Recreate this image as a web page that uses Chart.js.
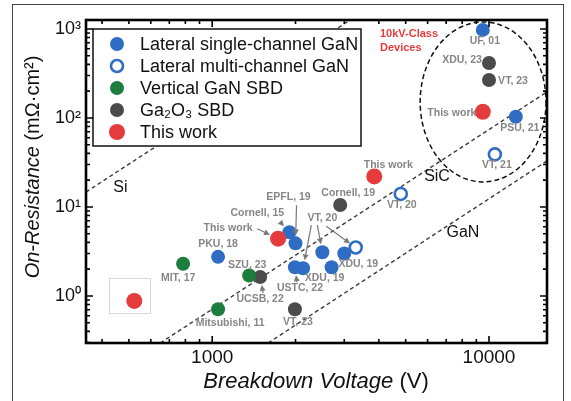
<!DOCTYPE html>
<html>
<head>
<meta charset="utf-8">
<title>On-Resistance vs Breakdown Voltage</title>
<script src="https://cdn.jsdelivr.net/npm/chart.js"></script>
<style>
  html, body { margin: 0; padding: 0; background: #fff; }
</style>
</head>
<body>
<canvas id="myChart" width="571" height="401"></canvas>
<script>
// breakdown voltage (V) / on-resistance (mOhm.cm2)
var singleBV  = [9500, 12500, 1900, 2000, 1050, 1990, 2130, 2500, 2700, 3000];
var singleRon = [975, 103, 5.2, 3.9, 2.75, 2.1, 2.05, 3.1, 2.1, 3.0];
var multiBV   = [3300, 4800, 10500];
var multiRon  = [3.5, 14, 39];
var vertBV    = [785, 1360, 1050];
var vertRon   = [2.3, 1.7, 0.71];
var gaoBV     = [10000, 10000, 2900, 1490, 1990];
var gaoRon    = [415, 267, 10.5, 1.63, 0.71];
var thisBV    = [523, 1730, 3850, 9500];
var thisRon   = [0.88, 4.4, 22, 117];

// material limit lines (two ends each)
var siBV   = [350, 3150];
var siRon  = [14.7, 1260];
var sicBV  = [649, 16200];
var sicRon = [0.296, 196];
var ganBV  = [1592, 16200];
var ganRon = [0.296, 32.9];

var xTicks = [1000, 10000];
var yTicks = [1, 10, 100, 1000];

var FONT = '"Liberation Sans", Arial, sans-serif';
var BLUE = '#2f6dc4', GREEN = '#1c7d3c', GREY = '#4b4b4b', RED = '#e63b3d';

function pts(xs, ys) {
  return xs.map(function (x, i) { return { x: x, y: ys[i] }; });
}

// text next to the points: series index, point index, offset (px) of the label centre
var notes = [
  { t: 'UF, 01', ds: 0, i: 0, dx: 2, dy: 11 },
  { t: 'PSU, 21', ds: 0, i: 1, dx: 4, dy: 11 },
  { t: 'Cornell, 15', ds: 0, i: 2, dx: -32, dy: -19, arrows: [{ from: [23, 9], ds: 0, i: 2 }] },
  { t: 'EPFL, 19', ds: 0, i: 3, dx: -7, dy: -46, arrows: [{ from: [8, 8], ds: 0, i: 3 }] },
  { t: 'PKU, 18', ds: 0, i: 4, dx: 0, dy: -13 },
  { t: 'USTC, 22', ds: 0, i: 5, dx: 5, dy: 21, arrows: [{ from: [-3, -6], ds: 0, i: 5 }] },
  { t: 'VT, 20', ds: 0, i: 7, dx: 0, dy: -34, arrows: [
      { from: [-11, 7], ds: 0, i: 6 }, { from: [-5, 7], ds: 0, i: 7 }, { from: [4, 8], ds: 1, i: 0 }] },
  { t: 'XDU, 19', ds: 0, i: 8, dx: -7, dy: 11 },
  { t: 'XDU, 19', ds: 0, i: 9, dx: 14, dy: 11 },
  { t: 'VT, 20', ds: 1, i: 1, dx: 1, dy: 11 },
  { t: 'VT, 21', ds: 1, i: 2, dx: 2, dy: 11 },
  { t: 'MIT, 17', ds: 2, i: 0, dx: -5, dy: 14 },
  { t: 'SZU, 23', ds: 2, i: 1, dx: -2, dy: -10 },
  { t: 'Mitsubishi, 11', ds: 2, i: 2, dx: 12, dy: 14 },
  { t: 'XDU, 23', ds: 3, i: 0, dx: -27, dy: -3 },
  { t: 'VT, 23', ds: 3, i: 1, dx: 24, dy: 1 },
  { t: 'Cornell, 19', ds: 3, i: 2, dx: 8, dy: -12 },
  { t: 'UCSB, 22', ds: 3, i: 3, dx: 0, dy: 22, arrows: [{ from: [3, -6], ds: 3, i: 3 }] },
  { t: 'VT, 23', ds: 3, i: 4, dx: 3, dy: 13 },
  { t: 'This work', ds: 4, i: 1, dx: -50, dy: -11, arrows: [{ from: [29, 1], ds: 4, i: 1 }] },
  { t: 'This work', ds: 4, i: 2, dx: 14, dy: -11 },
  { t: 'This work', ds: 4, i: 3, dx: -31, dy: 1 }
];

// line names, placed in data units
var lineTags = [
  { t: 'Si', x: 466, y: 16.3 },
  { t: 'SiC', x: 6490, y: 21.7 },
  { t: 'GaN', x: 8050, y: 5.1 }
];

// dashed "10kV-class" ring (bounds in data units) and its caption
var ring = { x0: 5640, x1: 16070, y0: 19.1, y1: 1200 };
var ringText = { lines: ['10kV-Class', 'Devices'], x: 4037, y: 879 };

var datasets = [
  { label: 'Lateral single-channel GaN', data: pts(singleBV, singleRon), pointRadius: 7,
    pointBackgroundColor: BLUE, pointBorderColor: BLUE, pointBorderWidth: 0, order: 1 },
  { label: 'Lateral multi-channel GaN', data: pts(multiBV, multiRon), pointRadius: 6, hollow: true,
    pointBackgroundColor: '#fff', pointBorderColor: BLUE, pointBorderWidth: 2.6, order: 1 },
  { label: 'Vertical GaN SBD', data: pts(vertBV, vertRon), pointRadius: 7,
    pointBackgroundColor: GREEN, pointBorderColor: GREEN, pointBorderWidth: 0, order: 1 },
  { label: 'Ga₂O₃ SBD', data: pts(gaoBV, gaoRon), pointRadius: 7,
    pointBackgroundColor: GREY, pointBorderColor: GREY, pointBorderWidth: 0, order: 1 },
  { label: 'This work', data: pts(thisBV, thisRon), pointRadius: 8,
    pointBackgroundColor: RED, pointBorderColor: RED, pointBorderWidth: 0, order: 0 }
];
[[siBV, siRon], [sicBV, sicRon], [ganBV, ganRon]].forEach(function (l) {
  datasets.push({ label: '', limit: true, data: pts(l[0], l[1]), showLine: true, pointRadius: 0,
    borderColor: '#3a3a3a', borderWidth: 1.4, borderDash: [4, 3], order: 5 });
});

function isDecade(v) {
  var l = Math.log10(v);
  return Math.abs(l - Math.round(l)) < 1e-9;
}
var SUP = { '-1': '⁻¹', '0': '⁰', '1': '¹', '2': '²', '3': '³', '4': '⁴' };

function ptPos(chart, ds, i) {
  var p = chart.getDatasetMeta(ds).data[i];
  return { x: p.x, y: p.y, r: chart.data.datasets[ds].pointRadius };
}

function arrow(ctx, x1, y1, x2, y2) {
  var a = Math.atan2(y2 - y1, x2 - x1);
  ctx.beginPath();
  ctx.moveTo(x1, y1);
  ctx.lineTo(x2 - 3 * Math.cos(a), y2 - 3 * Math.sin(a));
  ctx.stroke();
  ctx.beginPath();
  ctx.moveTo(x2, y2);
  ctx.lineTo(x2 - 6 * Math.cos(a) + 3 * Math.sin(a), y2 - 6 * Math.sin(a) - 3 * Math.cos(a));
  ctx.lineTo(x2 - 6 * Math.cos(a) - 3 * Math.sin(a), y2 - 6 * Math.sin(a) + 3 * Math.cos(a));
  ctx.closePath();
  ctx.fill();
}

var decor = {
  id: 'decor',
  beforeDraw: function (chart) {
    var ctx = chart.ctx;
    ctx.save();
    ctx.strokeStyle = '#444';
    ctx.lineWidth = 1;
    ctx.strokeRect(12.5, 4.5, 551, 430);
    ctx.restore();
  },
  beforeDatasetsDraw: function (chart) {
    var ctx = chart.ctx, xs = chart.scales.x, ys = chart.scales.y, ca = chart.chartArea;
    ctx.save();
    ctx.beginPath();
    ctx.rect(ca.left, ca.top, ca.right - ca.left, ca.bottom - ca.top);
    ctx.clip();
    // the 10kV ring
    var x0 = xs.getPixelForValue(ring.x0), x1 = xs.getPixelForValue(ring.x1);
    var y0 = ys.getPixelForValue(ring.y1), y1 = ys.getPixelForValue(ring.y0);
    ctx.strokeStyle = '#111';
    ctx.lineWidth = 1.5;
    ctx.setLineDash([5, 3]);
    ctx.beginPath();
    ctx.ellipse((x0 + x1) / 2, (y0 + y1) / 2, (x1 - x0) / 2, (y1 - y0) / 2, 0, 0, Math.PI * 2);
    ctx.stroke();
    ctx.setLineDash([]);
    // light frame round the first red point
    var p = ptPos(chart, 4, 0);
    ctx.strokeStyle = '#d8d8d8';
    ctx.lineWidth = 1;
    ctx.strokeRect(Math.round(p.x - 25) + 0.5, Math.round(p.y - 23) + 0.5, 41, 35);
    ctx.restore();
  },
  afterDatasetsDraw: function (chart) {
    var ctx = chart.ctx, xs = chart.scales.x, ys = chart.scales.y, ca = chart.chartArea;
    ctx.save();
    ctx.textAlign = 'center';
    ctx.textBaseline = 'middle';

    // reference labels and arrows
    ctx.font = 'bold 10.5px ' + FONT;
    ctx.fillStyle = '#868686';
    ctx.strokeStyle = '#7a7a7a';
    notes.forEach(function (n) {
      var p = ptPos(chart, n.ds, n.i);
      var lx = p.x + n.dx, ly = p.y + n.dy;
      ctx.fillText(n.t, lx, ly);
      (n.arrows || []).forEach(function (a) {
        var q = ptPos(chart, a.ds, a.i);
        var tx = lx + a.from[0], ty = ly + a.from[1];
        var d = Math.hypot(q.x - tx, q.y - ty);
        var k = (d - q.r - 1) / d;
        ctx.lineWidth = 1.2;
        ctx.fillStyle = '#7a7a7a';
        arrow(ctx, tx, ty, tx + (q.x - tx) * k, ty + (q.y - ty) * k);
        ctx.fillStyle = '#868686';
      });
    });

    // line names
    ctx.font = '16px ' + FONT;
    ctx.fillStyle = '#111';
    lineTags.forEach(function (t) {
      ctx.fillText(t.t, xs.getPixelForValue(t.x), ys.getPixelForValue(t.y));
    });

    // 10kV caption
    ctx.font = 'bold 11px ' + FONT;
    ctx.fillStyle = RED;
    ctx.textAlign = 'left';
    ringText.lines.forEach(function (s, k) {
      ctx.fillText(s, xs.getPixelForValue(ringText.x), ys.getPixelForValue(ringText.y) + k * 14);
    });

    // legend box inside the plot
    var bx = ca.left + 7, by = ca.top + 9, bw = 268, bh = 117;
    ctx.fillStyle = '#fff';
    ctx.fillRect(bx, by, bw, bh);
    ctx.strokeStyle = '#111';
    ctx.lineWidth = 1.5;
    ctx.strokeRect(bx, by, bw, bh);
    ctx.font = '18px ' + FONT;
    chart.data.datasets.forEach(function (d, k) {
      if (d.limit) return;
      var cy = by + 15 + k * 22, cx = bx + 24;
      ctx.beginPath();
      if (d.hollow) {
        ctx.arc(cx, cy, d.pointRadius, 0, Math.PI * 2);
        ctx.fillStyle = '#fff';
        ctx.fill();
        ctx.lineWidth = d.pointBorderWidth;
        ctx.strokeStyle = d.pointBorderColor;
        ctx.stroke();
      } else {
        ctx.arc(cx, cy, d.pointRadius, 0, Math.PI * 2);
        ctx.fillStyle = d.pointBackgroundColor;
        ctx.fill();
      }
      ctx.fillStyle = '#111';
      ctx.textAlign = 'left';
      ctx.fillText(d.label, bx + 47, cy + 1);
    });
    ctx.restore();
  },
  afterDraw: function (chart) {
    var ctx = chart.ctx, xs = chart.scales.x, ys = chart.scales.y, ca = chart.chartArea;
    ctx.save();
    // plot frame and inward ticks on all four sides
    ctx.strokeStyle = '#000';
    ctx.lineWidth = 1.6;
    function minorTicks(scale) {
      var out = [];
      for (var e = Math.floor(Math.log10(scale.min)); e <= Math.ceil(Math.log10(scale.max)); e++) {
        for (var m = 1; m < 10; m++) {
          var v = m * Math.pow(10, e);
          if (v >= scale.min && v <= scale.max) out.push({ v: v, major: m === 1 });
        }
      }
      return out;
    }
    ctx.beginPath();
    minorTicks(xs).forEach(function (t) {
      var x = xs.getPixelForValue(t.v), L = t.major ? 7 : 4;
      ctx.moveTo(x, ca.bottom); ctx.lineTo(x, ca.bottom - L);
      ctx.moveTo(x, ca.top); ctx.lineTo(x, ca.top + L);
    });
    minorTicks(ys).forEach(function (t) {
      var y = ys.getPixelForValue(t.v), L = t.major ? 7 : 4;
      ctx.moveTo(ca.left, y); ctx.lineTo(ca.left + L, y);
      ctx.moveTo(ca.right, y); ctx.lineTo(ca.right - L, y);
    });
    ctx.stroke();
    ctx.lineWidth = 2.6;
    ctx.strokeRect(ca.left, ca.top, ca.right - ca.left, ca.bottom - ca.top);

    // axis titles: italic name + upright unit
    function title(parts, size) {
      var w = 0;
      parts.forEach(function (p) { ctx.font = p[1] + size + 'px ' + FONT; w += ctx.measureText(p[0]).width; });
      var x = -w / 2;
      parts.forEach(function (p) {
        ctx.font = p[1] + size + 'px ' + FONT;
        ctx.fillText(p[0], x, 0);
        x += ctx.measureText(p[0]).width;
      });
    }
    ctx.fillStyle = '#111';
    ctx.textBaseline = 'middle';
    ctx.textAlign = 'left';
    ctx.save();
    ctx.translate(316, 382);
    title([['Breakdown Voltage', 'italic '], [' (V)', '']], 22);
    ctx.restore();
    ctx.save();
    ctx.translate(33, 167);
    ctx.rotate(-Math.PI / 2);
    title([['On-Resistance', 'italic '], [' (mΩ·cm²)', '']], 20);
    ctx.restore();
    ctx.restore();
  }
};

new Chart(document.getElementById('myChart').getContext('2d'), {
  type: 'scatter',
  data: { datasets: datasets },
  options: {
    responsive: false,
    animation: false,
    devicePixelRatio: 1,
    layout: { padding: { left: 0, top: 20, right: 24, bottom: 0 } },
    plugins: { legend: { display: false }, tooltip: { enabled: false } },
    scales: {
      x: {
        type: 'logarithmic', min: 350, max: 16200,
        afterFit: function (s) { s.height = 58; },
        grid: { display: false, drawTicks: false },
        border: { display: false },
        ticks: {
          autoSkip: false, maxRotation: 0, padding: 3, color: '#111',
          font: { size: 19, family: FONT },
          callback: function (v) { return xTicks.indexOf(v) >= 0 ? String(v) : ''; }
        }
      },
      y: {
        type: 'logarithmic', min: 0.296, max: 1260,
        afterFit: function (s) { s.width = 86; },
        grid: { display: false, drawTicks: false },
        border: { display: false },
        ticks: {
          autoSkip: false, padding: 5, color: '#111',
          font: { size: 18, family: FONT },
          callback: function (v) {
            return (yTicks.indexOf(v) >= 0 && isDecade(v)) ? '10' + SUP[Math.round(Math.log10(v))] : '';
          }
        }
      }
    }
  },
  plugins: [decor]
});
</script>
</body>
</html>
